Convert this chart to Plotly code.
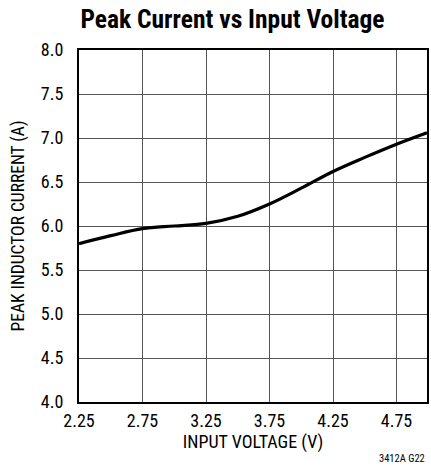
import plotly.graph_objects as go

voltage = [2.25, 2.5, 2.75, 3.0, 3.25, 3.5, 3.75, 4.0, 4.25, 4.5, 4.75, 4.99]
current = [5.80, 5.89, 5.97, 6.00, 6.03, 6.11, 6.25, 6.43, 6.62, 6.78, 6.93, 7.06]

x_ticks = [2.25, 2.75, 3.25, 3.75, 4.25, 4.75]
y_ticks = [4.0, 4.5, 5.0, 5.5, 6.0, 6.5, 7.0, 7.5, 8.0]

FONT = "Roboto Condensed, DejaVu Sans Condensed, sans-serif"

fig = go.Figure()
fig.add_trace(go.Scatter(
    x=voltage, y=current, mode="lines",
    line=dict(color="black", width=3.2, shape="spline", smoothing=1.0),
    showlegend=False, hoverinfo="skip",
))

W, H = 431, 469
L, R, T, B = 79, 2, 50, 67
PH = H - T - B

fig.update_layout(
    width=W, height=H,
    margin=dict(l=L, r=R, t=T, b=B, pad=0),
    paper_bgcolor="white", plot_bgcolor="white",
    font=dict(family=FONT, size=18, color="black"),
    showlegend=False,
    hovermode=False,
    title=dict(
        text="<b>Peak Current vs Input Voltage</b>",
        font=dict(family=FONT, size=25.5, color="black"),
        x=232.5 / W, xanchor="center", xref="container",
        y=1 - 19.5 / H, yanchor="middle", yref="container",
    ),
    xaxis=dict(
        range=[2.25, 4.99], tickvals=x_ticks, ticktext=[f"{v:.2f}" for v in x_ticks],
        showgrid=True, gridcolor="#555555", gridwidth=1,
        showline=True, linecolor="black", linewidth=2, mirror=True,
        ticks="", zeroline=False, ticklabelstandoff=1,
        title=dict(text="INPUT VOLTAGE (V)", standoff=4, font=dict(size=18)),
        tickfont=dict(size=18),
    ),
    yaxis=dict(
        range=[4.0, 8.0], tickvals=y_ticks, ticktext=[f"{v:.1f}" for v in y_ticks],
        showgrid=True, gridcolor="#555555", gridwidth=1,
        showline=True, linecolor="black", linewidth=2, mirror=True,
        ticks="", zeroline=False, ticklabelstandoff=10,
        title=dict(text="PEAK INDUCTOR CURRENT (A)", standoff=12, font=dict(size=17.5)),
        tickfont=dict(size=18),
    ),
    annotations=[dict(
        text="3412A G22", x=1.0, xref="paper", xanchor="right",
        y=-(458.5 - 402) / PH, yref="paper", yanchor="middle",
        showarrow=False, font=dict(family=FONT, size=10.5, color="black"),
    )],
)

fig.write_html(
    "out.html",
    config={"displayModeBar": False, "staticPlot": True},
    post_script="document.body.style.margin='0px';",
)
